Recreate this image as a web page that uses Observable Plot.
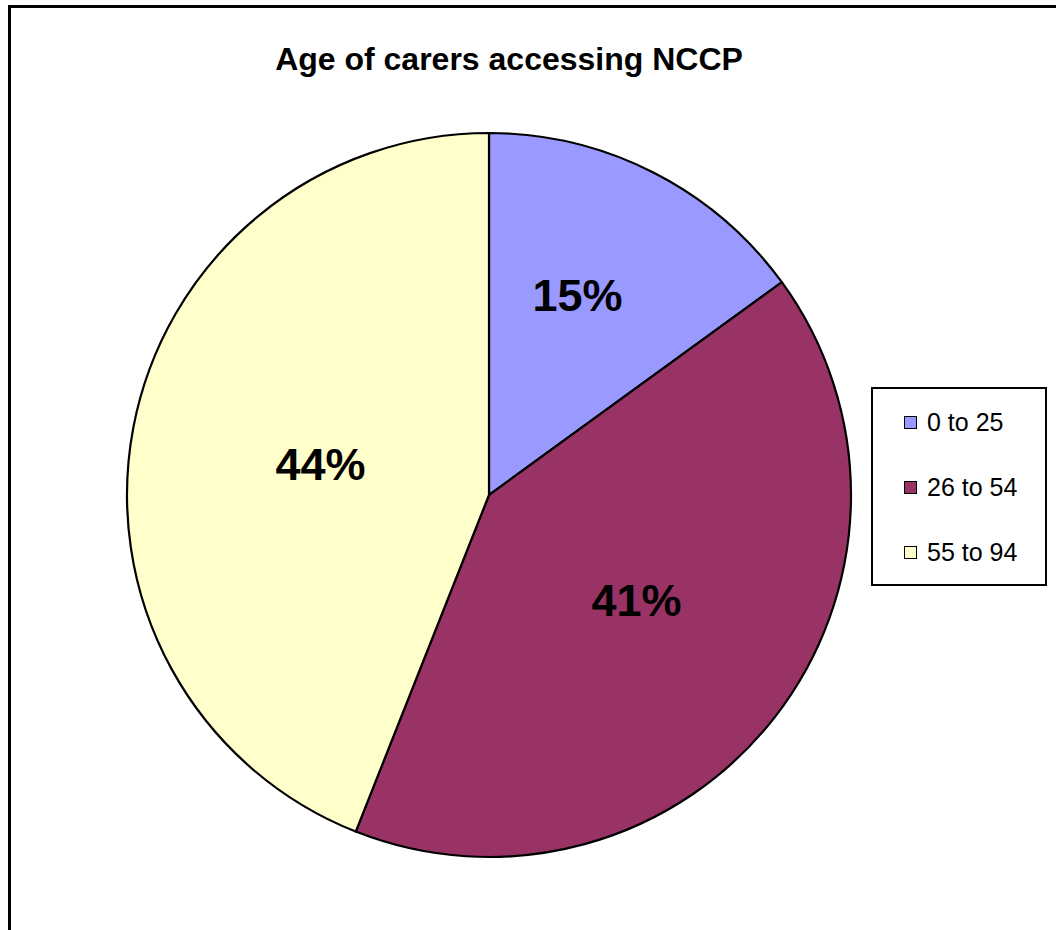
<!DOCTYPE html>
<html><head><meta charset="utf-8">
<script src="https://cdn.jsdelivr.net/npm/d3@7"></script>
<script src="https://cdn.jsdelivr.net/npm/@observablehq/plot@0.6"></script>
<style>
body{margin:0;background:#fff;font-family:"Liberation Sans",Arial,sans-serif;}
#frame{position:absolute;left:8px;top:5px;width:1100px;height:1000px;border:3px solid #000;box-sizing:border-box}
#title{position:absolute;left:0;top:43px;width:1018px;text-align:center;font-weight:bold;font-size:32px;line-height:1;white-space:nowrap}
#chart{position:absolute;left:0;top:0}
#legend{position:absolute;left:871px;top:387px;width:176px;height:199px;border:2px solid #000;box-sizing:border-box;background:#fff}
.item{position:absolute;left:0;height:24px;display:flex;align-items:center;font-size:25px;line-height:1}
.sw{width:13px;height:13px;border:1.5px solid #000;box-sizing:border-box;margin-left:31px;margin-right:10px}
</style></head><body>
<div id="frame"></div>
<div id="title">Age of carers accessing NCCP</div>
<div id="chart"></div>
<div id="legend"></div>
<script>
const categories = ["0 to 25", "26 to 54", "55 to 94"];
const values = [15, 41, 44];
const labels = ["15%", "41%", "44%"];
const colors = ["#9999FF", "#993366", "#FFFFCC"];
const labelRadius = [0.6, 0.5, 0.474];
const labelAngleShift = [-3.1, -2.1, -0.7];

const data = categories.map((c, i) => ({category: c, value: values[i], label: labels[i]}));
const arcs = d3.pie().sort(null).value(d => d.value)(data);
const colorScale = Plot.scale({color: {type: "ordinal", domain: categories, range: colors}});

const labelData = arcs.map((a, i) => {
  const m = (a.startAngle + a.endAngle) / 2 + labelAngleShift[i] * Math.PI / 180;
  return {label: a.data.label, x: labelRadius[i] * Math.sin(m), y: labelRadius[i] * Math.cos(m)};
});

function pieMark(index, scales) {
  const cx = scales.x(0), cy = scales.y(0);
  const r = scales.x(1) - scales.x(0);
  const g = d3.create("svg:g").attr("transform", `translate(${cx},${cy})`);
  const arc = d3.arc().innerRadius(0).outerRadius(r);
  g.selectAll("path").data(arcs).join("path")
    .attr("d", arc)
    .attr("fill", d => colorScale.apply(d.data.category))
    .attr("stroke", "#000")
    .attr("stroke-width", 2.2)
    .attr("stroke-linejoin", "round");
  return g.node();
}

const plot = Plot.plot({
  width: 1056,
  height: 930,
  margin: 0,
  x: {domain: [-1, 1], range: [127, 851], axis: null},
  y: {domain: [-1, 1], range: [857, 133], axis: null},
  style: {fontFamily: "'Liberation Sans', Arial, sans-serif", background: "transparent"},
  marks: [
    pieMark,
    Plot.text(labelData, {x: "x", y: "y", text: "label", fontSize: 45, fontWeight: "bold", fill: "#000", textAnchor: "middle", lineAnchor: "middle"})
  ]
});
document.getElementById("chart").appendChild(plot);

const legend = d3.select("#legend");
categories.forEach((c, i) => {
  const it = legend.append("div").attr("class", "item").style("top", (21 + i * 65) + "px");
  it.append("div").attr("class", "sw").style("background", colorScale.apply(c));
  it.append("span").text(c);
});
</script>
</body></html>
